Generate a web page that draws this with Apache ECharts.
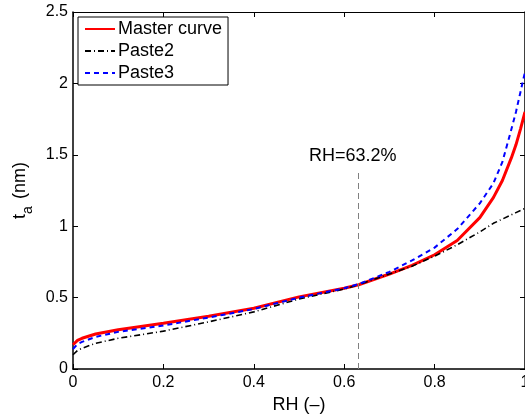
<!DOCTYPE html>
<html><head><meta charset="utf-8">
<script src="https://cdn.jsdelivr.net/npm/echarts@6/dist/echarts.min.js"></script>
<style>html,body{margin:0;padding:0;background:#fff;overflow:hidden;width:525px;height:418px}#c{width:525px;height:418px;overflow:hidden}</style>
</head><body><div id="c"></div>
<script>
const rh      = [0, 0.01, 0.02, 0.05, 0.1, 0.2, 0.3, 0.4, 0.5, 0.6, 0.632, 0.7, 0.75, 0.8, 0.85, 0.9, 0.93, 0.95, 0.97, 0.98, 0.99, 1.0];
const master  = [0.17, 0.20, 0.215, 0.245, 0.275, 0.32, 0.37, 0.425, 0.505, 0.565, 0.59, 0.665, 0.725, 0.80, 0.90, 1.06, 1.20, 1.32, 1.48, 1.57, 1.68, 1.80];
const paste2  = [0.10, 0.13, 0.145, 0.18, 0.215, 0.265, 0.33, 0.40, 0.49, 0.56, 0.59, 0.665, 0.72, 0.79, 0.87, 0.96, 1.02, 1.05, 1.08, 1.095, 1.11, 1.125];
const paste3  = [0.14, 0.175, 0.19, 0.225, 0.26, 0.305, 0.36, 0.42, 0.50, 0.565, 0.595, 0.68, 0.76, 0.85, 0.98, 1.16, 1.30, 1.45, 1.68, 1.80, 1.94, 2.08];
const markRH = 0.632;
const markTop = 1.4;
const markText = 'RH=63.2%';
const xTicks = {min: 0, max: 1, interval: 0.2};
const yTicks = {min: 0, max: 2.5, interval: 0.5};

const pairs = ys => rh.map((x, i) => [x, ys[i]]);
const FONT = 'Liberation Sans';
const chart = echarts.init(document.getElementById('c'), null, {renderer: 'canvas', width: 525, height: 418});
const baseAxis = {
  axisLine: {show: true, onZero: false, lineStyle: {color: '#000', width: 1.5}},
  axisTick: {show: true, inside: true, length: 5, lineStyle: {color: '#000', width: 1}},
  splitLine: {show: false}
};
chart.setOption({
  animation: false,
  textStyle: {fontFamily: FONT},
  grid: {left: 73, right: 0, top: 12, bottom: 49, containLabel: false, outerBoundsMode: 'none'},
  legend: {
    orient: 'vertical', left: 78, top: 17,
    backgroundColor: '#fff', borderColor: '#000', borderWidth: 1,
    padding: [3, 6, 3, 6], itemWidth: 30, itemHeight: 14, itemGap: 4,
    itemStyle: {opacity: 0},
    textStyle: {fontSize: 18, lineHeight: 18, color: '#000', fontFamily: FONT, padding: [0, 0, 0, -2]},
    data: ['Master curve', 'Paste2', 'Paste3']
  },
  xAxis: [
    Object.assign({type: 'value', position: 'bottom', min: xTicks.min, max: xTicks.max, interval: xTicks.interval,
      name: 'RH (–)', nameLocation: 'middle', nameGap: 24,
      nameTextStyle: {fontSize: 18, color: '#000', fontFamily: FONT},
      axisLabel: {fontSize: 16, color: '#000', margin: 6, fontFamily: FONT}}, baseAxis),
    Object.assign({type: 'value', position: 'top', min: xTicks.min, max: xTicks.max, interval: xTicks.interval,
      axisLabel: {show: false}}, baseAxis, {axisLine: {show: true, onZero: false, lineStyle: {color: '#000', width: 1.2}}})
  ],
  yAxis: [
    Object.assign({type: 'value', position: 'left', min: yTicks.min, max: yTicks.max, interval: yTicks.interval,
      name: '{t|t}{s|a}{t| (nm)}', nameLocation: 'middle', nameGap: 38, nameRotate: 90,
      nameTextStyle: {color: '#000', fontFamily: FONT, rich: {
        t: {fontSize: 18, color: '#000', fontFamily: FONT, verticalAlign: 'bottom', lineHeight: 24},
        s: {fontSize: 14, color: '#000', fontFamily: FONT, verticalAlign: 'bottom', lineHeight: 24, padding: [0, 2, -6, 0]}
      }},
      axisLabel: {fontSize: 16, color: '#000', margin: 5, fontFamily: FONT}}, baseAxis),
    Object.assign({type: 'value', position: 'right', min: yTicks.min, max: yTicks.max, interval: yTicks.interval,
      axisLabel: {show: false}}, baseAxis)
  ],
  series: [
    {name: 'Master curve', type: 'line', data: pairs(master), symbol: 'none', smooth: false,
      lineStyle: {color: '#ff0000', width: 3}, itemStyle: {color: '#ff0000'}, z: 3,
      markLine: {silent: true, symbol: 'none',
        lineStyle: {color: '#808080', type: [6, 4], width: 1},
        label: {show: true, position: 'end', formatter: markText, fontSize: 18, color: '#000', fontFamily: FONT, distance: 4, offset: [-6, 0]},
        data: [[{coord: [markRH, 0]}, {coord: [markRH, markTop]}]]}},
    {name: 'Paste2', type: 'line', data: pairs(paste2), symbol: 'none', smooth: false,
      lineStyle: {color: '#000', width: 1.6, type: [6, 3, 1, 3]}, itemStyle: {color: '#000'}, z: 4},
    {name: 'Paste3', type: 'line', data: pairs(paste3), symbol: 'none', smooth: false,
      lineStyle: {color: '#0000ff', width: 2, type: [5, 4]}, itemStyle: {color: '#0000ff'}, z: 5}
  ]
});
</script></body></html>
